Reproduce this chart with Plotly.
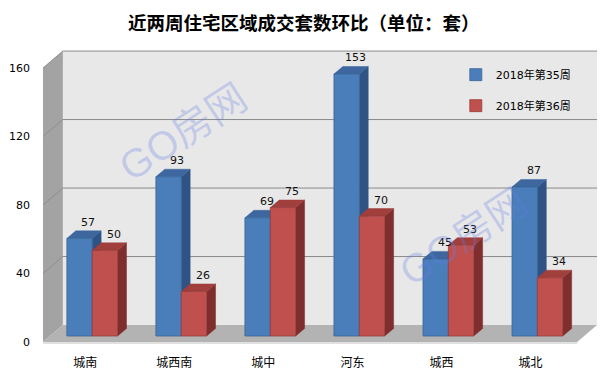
import plotly.graph_objects as go

# ---------------- data ----------------
categories = ["城南", "城西南", "城中", "河东", "城西", "城北"]
week35 = [57, 93, 69, 153, 45, 87]
week36 = [50, 26, 75, 70, 53, 34]
series_names = ["2018年第35周", "2018年第36周"]
y_ticks = [0, 40, 80, 120, 160]
title_text = "近两周住宅区域成交套数环比（单位：套）"
watermark_text = "GO房网"

# ---------------- style / geometry ----------------
# the page body adds an 8px margin, so the figure is 8px smaller each way
W, H = 605, 371
ML, MR, MT, MB = 32, 1, 32, 29
X_RANGE = [-0.553, 5.838]
Y_RANGE = [-8.175, 172.85]
BW = 0.285            # bar width (category units)
DX, DY = 0.10, 4.4    # bar depth projection
FDX, FDY = -0.078, -3.5   # front plane offset
BDX, BDY = 0.145, 6.4     # back wall offset
PLANE_L, PLANE_R = -0.475, 5.525
FONT = "DejaVu Sans, Noto Sans CJK SC"

colors = {
    "front": ["#4a7ebb", "#c0504d"],
    "edge": ["#3a6494", "#973e3c"],
    "top": ["#3d679e", "#a03f3c"],
    "side": ["#2f5384", "#7e2e2c"],
}

def path(pts):
    return "M " + " L ".join(f"{x},{y}" for x, y in pts) + " Z"

shapes = []
fl, fr = PLANE_L + FDX, PLANE_R + FDX
bl, br = PLANE_L + BDX, PLANE_R + BDX
top_v = y_ticks[-1]

# back wall
shapes.append(dict(type="path", xref="x", yref="y", layer="below",
                   path=path([(bl, BDY), (br, BDY), (br, top_v + BDY), (bl, top_v + BDY)]),
                   fillcolor="#e8e8e8", line=dict(width=0)))
# side wall
shapes.append(dict(type="path", xref="x", yref="y", layer="below",
                   path=path([(fl, FDY), (bl, BDY), (bl, top_v + BDY), (fl, top_v + FDY)]),
                   fillcolor="#a3a3a3", line=dict(width=0)))
# gridlines
for v in y_ticks[1:]:
    shapes.append(dict(type="line", xref="x", yref="y", layer="below",
                       x0=bl, x1=br, y0=v + BDY, y1=v + BDY,
                       line=dict(color="#8a8a8a", width=1)))
    shapes.append(dict(type="line", xref="x", yref="y", layer="below",
                       x0=fl, x1=bl, y0=v + FDY, y1=v + BDY,
                       line=dict(color="#8f8f8f", width=1)))
# floor
shapes.append(dict(type="path", xref="x", yref="y", layer="below",
                   path=path([(fl, FDY), (fr, FDY), (br, BDY), (bl, BDY)]),
                   fillcolor="#b3b3b3", line=dict(width=0)))
shapes.append(dict(type="line", xref="x", yref="y", layer="below",
                   x0=fl, x1=fr, y0=FDY - 0.6, y1=FDY - 0.6,
                   line=dict(color="#d6d6d6", width=1.5)))

annotations = []
offsets = [-BW, 0.0]
fig = go.Figure()
for s, (name, vals) in enumerate(zip(series_names, [week35, week36])):
    for i, v in enumerate(vals):
        x0 = i + offsets[s]
        x1 = x0 + BW
        shapes.append(dict(type="path", xref="x", yref="y", layer="below",
                           path=path([(x1, 0), (x1, v), (x1 + DX, v + DY), (x1 + DX, DY)]),
                           fillcolor=colors["side"][s], line=dict(color=colors["side"][s], width=0.5)))
        shapes.append(dict(type="path", xref="x", yref="y", layer="below",
                           path=path([(x0, v), (x1, v), (x1 + DX, v + DY), (x0 + DX, v + DY)]),
                           fillcolor=colors["top"][s], line=dict(color=colors["top"][s], width=0.5)))
        annotations.append(dict(x=x0 + BW / 2 + DX, y=v + DY, xref="x", yref="y",
                                text=str(v), showarrow=False, yanchor="bottom",
                                font=dict(family=FONT, size=11, color="#111111")))
    fig.add_trace(go.Bar(
        x=list(range(len(categories))), y=vals, name=name,
        width=BW, offset=offsets[s], legendgroup=name,
        marker=dict(color=colors["front"][s], line=dict(color=colors["edge"][s], width=0.8)),
    ))

# watermarks
for wx, wy in [(1.02, 119.0), (4.16, 58.0)]:
    annotations.append(dict(x=wx, y=wy, xref="x", yref="y", text=watermark_text,
                            showarrow=False, textangle=-33,
                            font=dict(family="Liberation Sans, Noto Sans CJK SC", size=40,
                                      color="rgba(100,125,230,0.28)")))

fig.update_layout(
    width=W, height=H,
    margin=dict(l=ML, r=MR, t=MT, b=MB),
    paper_bgcolor="white", plot_bgcolor="rgba(0,0,0,0)",
    barmode="overlay",
    title=dict(text=f"<b>{title_text}</b>", x=0.489, xanchor="center", y=0.958, yanchor="middle",
               font=dict(family="Noto Sans CJK SC", size=18.5, color="#000000")),
    xaxis=dict(range=X_RANGE, showgrid=False, zeroline=False, showline=False,
               tickvals=[i + FDX for i in range(len(categories))], ticktext=categories,
               tickfont=dict(family=FONT, size=12, color="#000000"), ticks="",
               ticklabelstandoff=4),
    yaxis=dict(range=Y_RANGE, showgrid=False, zeroline=False, showline=False,
               tickvals=[v + FDY for v in y_ticks], ticktext=[str(v) for v in y_ticks],
               tickfont=dict(family=FONT, size=11, color="#000000"), ticks="",
               ticklabelstandoff=12),
    legend=dict(x=0.7255, y=0.935, xanchor="left", yanchor="top",
                bgcolor="rgba(0,0,0,0)", font=dict(family=FONT, size=11, color="#000000"),
                traceorder="grouped", tracegroupgap=12, itemwidth=30),
    shapes=shapes,
    annotations=annotations,
)

fig.write_html("out.html")
